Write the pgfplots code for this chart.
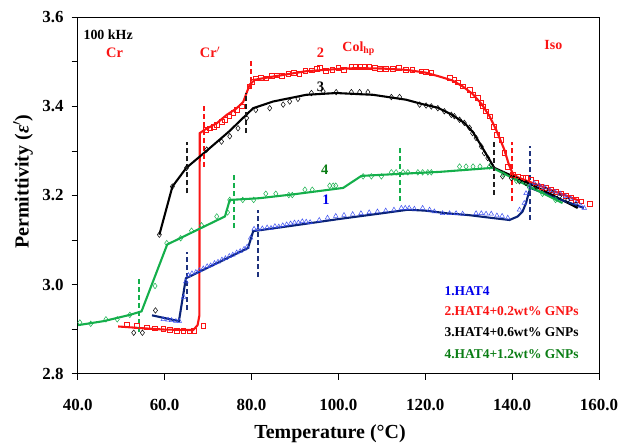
\documentclass[border=0pt]{standalone}
\usepackage{fontspec}
\setmainfont{Liberation Serif}
\usepackage{pgfplots}
\pgfplotsset{compat=1.18}
\definecolor{myred}{RGB}{250,20,20}
\definecolor{mygreen}{RGB}{20,175,75}
\definecolor{dgreen}{RGB}{10,125,20}
\definecolor{navy}{RGB}{10,35,120}
\definecolor{tri}{RGB}{60,80,240}
\definecolor{lblue}{RGB}{0,0,235}
\definecolor{dnavy}{RGB}{30,50,125}
\definecolor{dgray}{RGB}{30,30,30}
\pgfplotsset{dsh/.style={line width=2pt, dash pattern=on 5pt off 3pt, mark=none}}
\begin{document}
\begin{tikzpicture}
\begin{axis}[name=ax, width=521.3bp, height=356.4bp, scale only axis,
  xmin=40, xmax=160, ymin=2.8, ymax=3.6,
  xtick={40,60,80,100,120,140,160}, xticklabels={40.0,60.0,80.0,100.0,120.0,140.0,160.0},
  ytick={2.8,3.0,3.2,3.4,3.6}, yticklabels={2.8,3.0,3.2,3.4,3.6},
  minor ytick={2.9,3.1,3.3,3.5},
  tick align=outside, tick pos=left,
  major tick length=6bp, minor tick length=6bp,
  tick style={black, line width=0.8pt},
  axis line style={line width=1pt},
  ticklabel style={font=\fontsize{17}{17}\selectfont\bfseries},
  /pgf/number format/assume math mode=true,
  xticklabel style={inner sep=0pt, anchor=north, yshift=-19bp},
  yticklabel style={inner sep=0pt, anchor=east, xshift=-8bp},
  xlabel={Temperature (°C)}, ylabel={Permittivity (\textit{ε}$'$)},
  label style={font=\fontsize{20}{20}\selectfont\bfseries},
  xlabel style={at={(axis description cs:0.484,-0.1824)}, anchor=base, inner sep=0pt},
  ylabel style={at={(axis description cs:-0.0857,0.539)}, anchor=south, inner sep=0pt},
]
% ---------- markers ----------
\addplot[only marks, mark=square, mark size=2.4pt, mark options={myred, line width=0.6pt}] coordinates {
(51.3,2.909)(53.6,2.907)(55.9,2.904)(57.8,2.902)(59.7,2.900)(61.2,2.899)(62.8,2.897)(64.3,2.896)(65.8,2.895)(66.8,2.897)(68.9,2.907)
(69.5,3.348)(70.4,3.351)(71.3,3.355)(72.1,3.359)(73.1,3.366)(73.9,3.370)(74.9,3.378)(75.8,3.385)(76.7,3.393)(77.7,3.400)(79.5,3.445)(80.2,3.456)
(81.0,3.463)(82.2,3.465)(83.4,3.463)(84.6,3.468)(85.8,3.470)(87.0,3.468)(88.5,3.473)(89.8,3.475)(91.0,3.474)(92.4,3.480)(93.8,3.481)(95.0,3.484)(95.8,3.486)(97.2,3.480)(98.6,3.483)(100.0,3.486)(101.3,3.483)(103.0,3.489)(104.0,3.489)(105.0,3.489)(106.0,3.489)(107.0,3.489)(108.3,3.486)(109.6,3.485)(111.0,3.485)(112.5,3.484)(114.0,3.486)(115.5,3.482)(117.0,3.483)(119.1,3.479)(120.2,3.477)(121.4,3.475)
(125.6,3.464)(126.7,3.460)(127.5,3.454)(128.6,3.445)(130.2,3.438)(130.9,3.426)(132.1,3.419)(132.9,3.408)(133.2,3.400)(134.0,3.389)(134.8,3.378)(135.7,3.355)(136.5,3.336)(137.5,3.325)(138.2,3.295)(139.0,3.265)(140.1,3.247)(141.3,3.243)(142.4,3.241)(143.2,3.239)(144.4,3.235)(145.5,3.228)(146.7,3.220)(147.8,3.217)(149.0,3.213)(150.1,3.209)(151.3,3.205)(152.4,3.199)(153.6,3.194)(154.7,3.190)(155.9,3.187)(157.8,3.181)
};
\addplot[only marks, mark=diamond, mark size=2.8pt, mark options={black, line width=0.5pt}] coordinates {
(52.9,2.892)(54.9,2.892)(57.9,2.942)(58.8,3.112)(61.8,3.220)(65.05,3.262)(69.7,3.303)(73.1,3.321)(75.0,3.333)(76.9,3.351)(78.9,3.374)
(81.0,3.392)(84.2,3.396)(87.3,3.404)(88.8,3.411)(90.7,3.417)(93.8,3.430)(96.5,3.434)(99.5,3.432)(103.0,3.432)(104.9,3.432)(106.8,3.432)(112.2,3.421)(114.1,3.421)(118.7,3.404)(120.2,3.402)(121.4,3.400)(122.9,3.396)
(124.4,3.389)(126.0,3.381)(126.7,3.378)(127.9,3.370)(129.0,3.363)(130.2,3.352)(130.9,3.340)(131.7,3.329)(132.9,3.310)(133.6,3.295)(134.4,3.284)(135.2,3.269)(137.8,3.243)(139.8,3.239)(141.7,3.232)(143.2,3.228)(145.5,3.220)(147.8,3.213)(149.3,3.205)(150.9,3.198)(152.8,3.190)(154.7,3.179)
};
\addplot[only marks, mark=triangle, mark size=2.6pt, mark options={tri, line width=0.5pt}] coordinates {
(59.7,2.922)(60.8,2.921)(61.6,2.920)(62.6,2.918)(63.4,2.918)(64.4,2.972)(64.9,3.007)
(65.5,3.021)(66.3,3.025)(67.2,3.028)(68.0,3.032)(68.9,3.036)(69.8,3.041)(70.6,3.043)(71.5,3.048)(72.3,3.051)(73.2,3.056)(74.0,3.059)(74.9,3.064)(75.7,3.067)(76.6,3.072)(77.4,3.075)(78.3,3.080)(79.0,3.085)(79.8,3.105)
(80.6,3.125)(81.5,3.124)(82.5,3.126)(83.6,3.128)(84.5,3.127)(85.4,3.131)(86.3,3.130)(87.2,3.133)(88.1,3.135)(89.0,3.137)(89.9,3.139)(90.8,3.139)(91.7,3.142)(92.6,3.141)(93.5,3.140)(95.6,3.145)(97.5,3.150)(99.4,3.154)(101.3,3.156)(103.3,3.158)(105.2,3.160)(107.1,3.162)(109.0,3.164)(110.9,3.166)(112.8,3.168)(114.5,3.172)(115.4,3.172)(116.3,3.172)(117.5,3.170)(119.4,3.172)(121.0,3.168)(122.1,3.164)(124.0,3.160)(125.6,3.160)(127.1,3.160)(128.6,3.159)(131.7,3.160)(132.9,3.160)(134.0,3.159)(135.2,3.159)(136.5,3.155)(137.7,3.154)(139.0,3.150)
(141.7,3.168)(142.8,3.183)(143.2,3.205)(144.0,3.220)(145.1,3.228)(146.3,3.222)(147.5,3.218)(148.7,3.212)(149.9,3.208)(151.1,3.204)(152.3,3.198)(153.5,3.193)(154.7,3.183)(155.8,3.177)(156.6,3.172)
};
\addplot[only marks, mark=diamond, mark size=2.8pt, mark options={mygreen, line width=0.5pt}] coordinates {
(40.5,2.915)(43.0,2.912)(46.5,2.922)(49.1,2.922)(52.0,2.932)(57.8,2.997)(60.5,3.093)(63.7,3.104)(66.2,3.121)(68.5,3.133)(72.0,3.153)(74.5,3.162)(75.0,3.190)
(78.0,3.190)(80.5,3.190)(83.3,3.204)(85.6,3.204)(88.6,3.201)(89.4,3.201)(92.3,3.213)(94.0,3.213)(98.0,3.222)(98.8,3.222)(99.4,3.222)(105.7,3.243)(107.6,3.243)(109.9,3.243)(112.2,3.252)(113.3,3.252)(114.9,3.252)(116.0,3.252)(118.3,3.252)(119.4,3.252)(120.6,3.252)(121.4,3.252)
(127.9,3.265)(129.4,3.265)(131.0,3.265)(132.6,3.265)(134.8,3.265)(138.0,3.247)(141.0,3.233)(144.0,3.218)(147.0,3.204)(150.0,3.190)
};
% ---------- lines ----------
\addplot[myred, line width=2.1pt] coordinates {
(49.3,2.906)(55,2.902)(60,2.899)(66.6,2.898)(67.6,2.909)(68.0,2.930)(68.1,3.340)(69.3,3.348)(72,3.362)(74.3,3.381)(76.5,3.395)(78.1,3.410)(79.6,3.449)(80.8,3.460)(85,3.467)(92.6,3.479)(100,3.484)(104.1,3.486)(110,3.485)(115.6,3.482)(120,3.476)(123.3,3.467)(126.3,3.458)(128.6,3.445)(130.9,3.428)(133,3.405)(134.8,3.378)(136.3,3.348)(138.2,3.303)(139.3,3.268)(140.2,3.248)(141.5,3.240)(148,3.216)(155.5,3.188)
};
\addplot[black, line width=2.1pt] coordinates {
(58.8,3.112)(61.8,3.220)(65.0,3.262)(70,3.303)(75,3.345)(77.4,3.368)(80.4,3.396)(85,3.411)(92.6,3.426)(99.5,3.430)(108,3.426)(115.6,3.415)(119,3.406)(122.9,3.397)(126,3.382)(129,3.363)(131,3.342)(133,3.310)(134.5,3.285)(135.9,3.262)(145,3.222)(155.1,3.172)
};
\addplot[navy, line width=2.1pt] coordinates {
(57.1,2.931)(63.3,2.918)(64.9,3.014)(79.2,3.082)(80.4,3.120)(90,3.133)(100,3.147)(110,3.160)(116,3.168)(120,3.166)(125,3.160)(130,3.156)(135,3.150)(139.4,3.145)(141.3,3.153)(142.4,3.164)(143.2,3.183)(143.8,3.205)(144.2,3.217)(150,3.195)(156.5,3.172)
};
\addplot[mygreen, line width=2.1pt] coordinates {
(40.1,2.909)(46,2.918)(52,2.932)(54.7,2.940)(60.6,3.090)(73.9,3.153)(75.0,3.190)(81.9,3.194)(90,3.203)(101.1,3.217)(105.3,3.244)(115,3.249)(123.3,3.253)(135.5,3.262)(143,3.225)(151.6,3.183)
};
% ---------- dashed transition lines ----------
\addplot[dsh, draw=dnavy] coordinates {(65.05,2.943)(65.05,3.073)};
\addplot[dsh, draw=dnavy] coordinates {(81.4,3.017)(81.4,3.167)};
\addplot[dsh, draw=dnavy] coordinates {(144.1,3.145)(144.1,3.310)};
\addplot[dsh, draw=dgray] coordinates {(65.05,3.205)(65.05,3.321)};
\addplot[dsh, draw=dgray] coordinates {(78.7,3.340)(78.7,3.430)};
\addplot[dsh, draw=dgray] coordinates {(135.9,3.202)(135.9,3.321)};
\addplot[dsh, draw=myred] coordinates {(69.0,3.265)(69.0,3.400)};
\addplot[dsh, draw=myred] coordinates {(80.0,3.438)(80.0,3.509)};
\addplot[dsh, draw=myred] coordinates {(140.0,3.187)(140.0,3.321)};
\addplot[dsh, draw=mygreen] coordinates {(54.2,2.894)(54.2,3.012)};
\addplot[dsh, draw=mygreen] coordinates {(75.9,3.127)(75.9,3.247)};
\addplot[dsh, draw=mygreen] coordinates {(114.1,3.187)(114.1,3.306)};
% ---------- annotations ----------
\node[anchor=base west, inner sep=0pt, font=\fontsize{14}{14}\selectfont\bfseries] at (axis cs:41.3,3.550) {100 kHz};
\node[anchor=base west, inner sep=0pt, text=myred, font=\fontsize{14.5}{14.5}\selectfont\bfseries] at (axis cs:46.5,3.509) {Cr};
\node[anchor=base west, inner sep=0pt, text=myred, font=\fontsize{14.5}{14.5}\selectfont\bfseries] at (axis cs:68.1,3.509) {Cr$'$};
\node[anchor=base, inner sep=0pt, text=myred, font=\fontsize{14.5}{14.5}\selectfont\bfseries] at (axis cs:95.9,3.509) {2};
\node[anchor=base west, inner sep=0pt, text=myred, font=\fontsize{14}{14}\selectfont\bfseries] at (axis cs:100.9,3.524) {Col\textsubscript{hp}};
\node[anchor=base west, inner sep=0pt, text=myred, font=\fontsize{14}{14}\selectfont\bfseries] at (axis cs:147.4,3.527) {Iso};
\node[anchor=base, inner sep=0pt, text=black, font=\fontsize{14.5}{14.5}\selectfont\bfseries] at (axis cs:95.9,3.434) {3};
\node[anchor=base, inner sep=0pt, text=dgreen, font=\fontsize{14.5}{14.5}\selectfont\bfseries] at (axis cs:96.85,3.247) {4};
\node[anchor=base, inner sep=0pt, text=lblue, font=\fontsize{14.5}{14.5}\selectfont\bfseries] at (axis cs:97.15,3.179) {1};
\node[anchor=base west, inner sep=0pt, text=lblue, font=\fontsize{13.5}{13.5}\selectfont\bfseries] at (axis cs:124.4,2.9746) {1.HAT4};
\node[anchor=base west, inner sep=0pt, text=myred, font=\fontsize{13.5}{13.5}\selectfont\bfseries] at (axis cs:124.4,2.9297) {2.HAT4+0.2wt\% GNPs};
\node[anchor=base west, inner sep=0pt, text=black, font=\fontsize{13.5}{13.5}\selectfont\bfseries] at (axis cs:124.4,2.8825) {3.HAT4+0.6wt\% GNPs};
\node[anchor=base west, inner sep=0pt, text=dgreen, font=\fontsize{13.5}{13.5}\selectfont\bfseries] at (axis cs:124.4,2.8337) {4.HAT4+1.2wt\% GNPs};
\end{axis}
\path ([xshift=-77.7bp,yshift=-70.3bp]ax.south west) rectangle ([xshift=21bp,yshift=17.3bp]ax.north east);
\end{tikzpicture}
\end{document}
